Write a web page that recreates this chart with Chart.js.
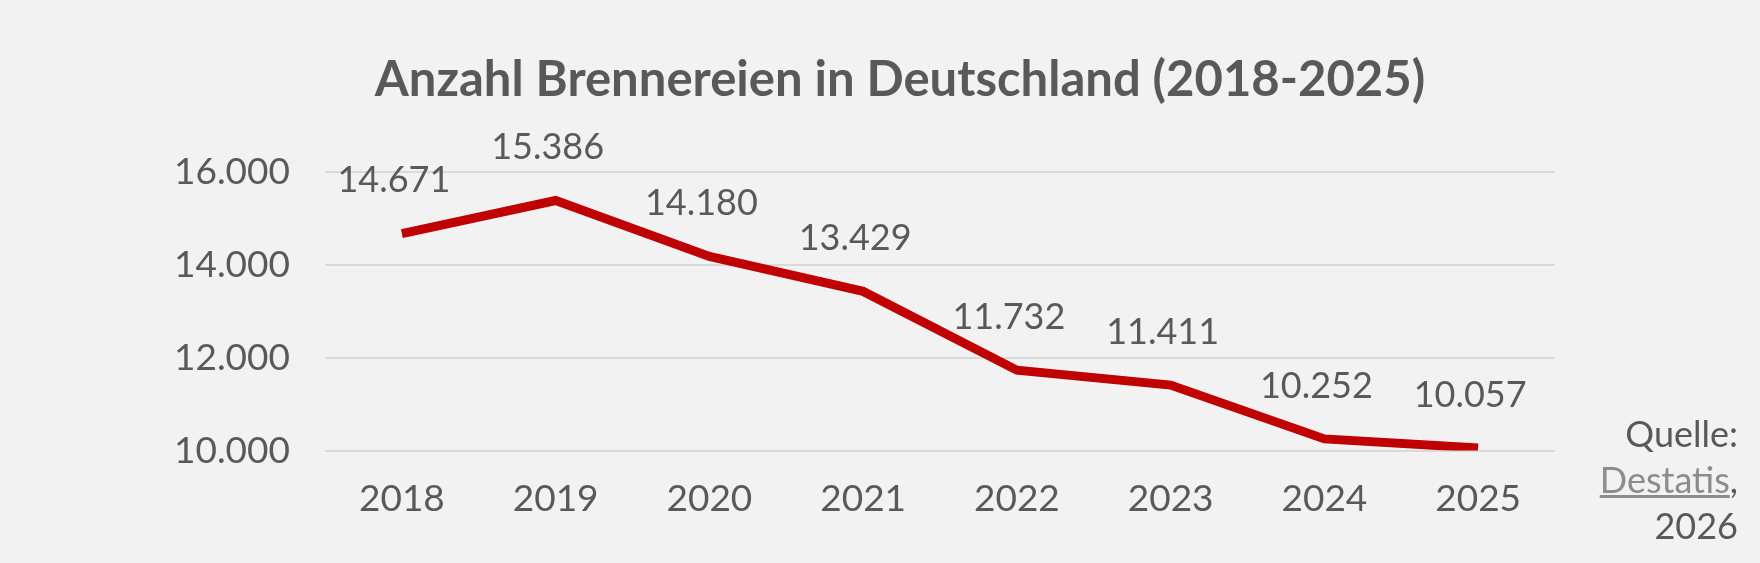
<!DOCTYPE html>
<html>
<head>
<meta charset="utf-8">
<script src="https://cdn.jsdelivr.net/npm/chart.js@4"></script>
<style>
  html, body { margin: 0; padding: 0; background: #f2f2f2; }
  #wrap { width: 1760px; height: 563px; position: relative; }
  #source {
    position: absolute; right: 22px; top: 410px; text-align: right;
    font: 36px Lato, sans-serif; line-height: 46px; color: #595959;
  }
  #source a { color: #8c8c8c; text-decoration: underline; }
</style>
</head>
<body>
<div id="wrap">
  <canvas id="chart" width="1760" height="563"></canvas>
  <div id="source">Quelle:<br><a>Destatis</a>,<br>2026</div>
</div>
<script>
// Data
const years = ["2018", "2019", "2020", "2021", "2022", "2023", "2024", "2025"];
const distilleries = [14671, 15386, 14180, 13429, 11732, 11411, 10252, 10057];
const yTicks = [10000, 12000, 14000, 16000];

const textColor = "#595959";
const fmt = (v) => v.toLocaleString("de-DE");

// Title + data labels drawn on canvas
const labelPlugin = {
  id: "labels",
  afterDatasetsDraw(chart) {
    const ctx = chart.ctx;
    ctx.save();
    ctx.fillStyle = textColor;
    ctx.font = "bold 49px Lato";
    ctx.textAlign = "center";
    ctx.textBaseline = "middle";
    ctx.fillText("Anzahl Brennereien in Deutschland (2018-2025)", 900, 80);
    ctx.font = "36px Lato";
    chart.getDatasetMeta(0).data.forEach((pt, i) => {
      ctx.fillText(fmt(distilleries[i]), pt.x - 8, pt.y - 53);
    });
    ctx.restore();
  },
};

new Chart(document.getElementById("chart"), {
  type: "line",
  data: {
    labels: years,
    datasets: [{
      data: distilleries,
      borderColor: "#c00000",
      borderWidth: 9,
      pointRadius: 0,
      tension: 0,
    }],
  },
  options: {
    responsive: false,
    animation: false,
    layout: { padding: { top: 172, right: 205, bottom: 24, left: 0 } },
    plugins: { legend: { display: false }, tooltip: { enabled: false } },
    scales: {
      x: {
        offset: true,
        grid: { display: false },
        border: { display: false },
        ticks: { color: textColor, font: { family: "Lato", size: 37 }, padding: 18, maxRotation: 0 },
      },
      y: {
        min: 10000,
        max: 16000,
        afterFit: (scale) => { scale.width = 325; },
        afterBuildTicks: (scale) => { scale.ticks = yTicks.map((v) => ({ value: v })); },
        grid: { color: "#d9d9d9", lineWidth: 2, drawTicks: false },
        border: { display: false },
        ticks: { color: textColor, font: { family: "Lato", size: 37 }, padding: 35, callback: (v) => fmt(v) },
      },
    },
  },
  plugins: [labelPlugin],
});
</script>
</body>
</html>
